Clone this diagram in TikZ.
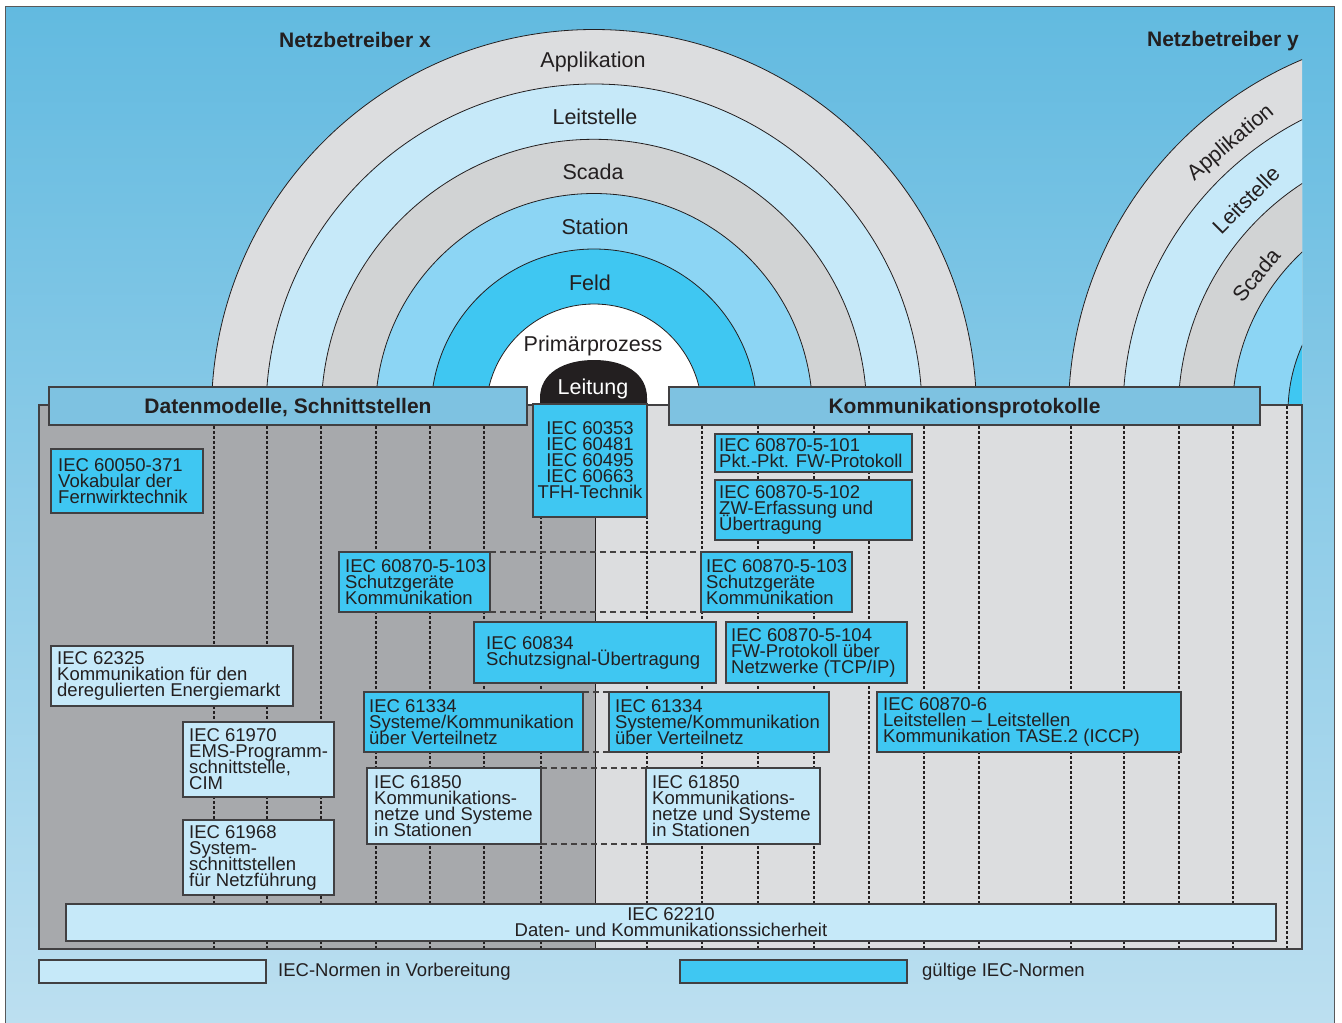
\documentclass[tikz,border=0pt]{standalone}
\usepackage{fontspec}
\setmainfont{Liberation Sans}
\definecolor{cyanN}{HTML}{3FC7F2}
\definecolor{lightN}{HTML}{C6E9F9}
\definecolor{darkG}{HTML}{A7A9AC}
\definecolor{lightG}{HTML}{DCDDDF}
\definecolor{midG}{HTML}{D1D3D4}
\definecolor{barB}{HTML}{7EC2E1}
\definecolor{stationB}{HTML}{8CD5F4}
\definecolor{ink}{HTML}{231F20}
\definecolor{bgTop}{HTML}{62BAE0}
\definecolor{bgBot}{HTML}{BCDFF0}
\definecolor{frameC}{HTML}{58595B}
\definecolor{barline}{HTML}{414042}
\newcommand\mytightlines{\lineskiplimit=-100pt\relax\lineskip=0pt\relax}
\newcommand\myboxfont{\fontsize{18.5}{16}\selectfont\mytightlines}
\begin{document}
\begin{tikzpicture}[x=1pt,y=-1pt,
  arcl/.style={draw=ink, line width=0.8},
  archlabel/.style={font=\fontsize{21.5}{24}\selectfont, text=ink, inner sep=0},
  heading/.style={font=\bfseries\fontsize{21}{24}\selectfont, text=ink, inner sep=0},
  bar/.style={draw=barline, line width=1.5, fill=barB, inner sep=0, outer sep=0, font=\bfseries\fontsize{21}{24}\selectfont, text=ink, text depth=0pt},
  normbox/.style={draw=barline, line width=1.3, inner sep=0, outer sep=0},
  valid/.style={normbox, fill=cyanN},
  prep/.style={normbox, fill=lightN},
  txt/.style={font=\myboxfont, text=ink, align=left, inner sep=0, anchor=west},
  vdash/.style={draw=ink, line width=1.5, dash pattern=on 3pt off 2pt},
  hdash/.style={draw=ink!85, line width=1.2, dash pattern=on 6pt off 4pt}]

\useasboundingbox (0,0) rectangle (1342,1023);
\fill[white] (0,0) rectangle (1342,1023);
\shade[top color=bgTop, bottom color=bgBot] (5,6) rectangle (1334,1023);
\draw[frameC, line width=1] (5,6) -- (1334,6) -- (1334,1024);
\draw[frameC, line width=1] (5,6) -- (5,1024);

% right arch (Netzbetreiber y)
\begin{scope}
  \clip (1000,0) rectangle (1302,420);
  \foreach \r/\c in {382.5/lightG, 328/lightN, 272.7/midG, 218.5/stationB, 163/cyanN, 108/white}
    \filldraw[arcl, fill=\c] (1451,412) circle[radius=\r];
\end{scope}

% left arch (Netzbetreiber x)
\foreach \r/\c in {382.5/lightG, 328/lightN, 272.7/midG, 218.5/stationB, 163/cyanN, 108/white}
  \filldraw[arcl, fill=\c] (594,412) circle[radius=\r];
\fill[ink] (540,406) -- (540,398) .. controls (540,373) and (564,360) .. (594,360)
  .. controls (624,360) and (647,373) .. (647,398) -- (647,406) -- cycle;

\node[archlabel] (lApp) at (593,62) {Applikation};
\node[archlabel] (lLeit) at (595,117) {Leitstelle};
\node[archlabel] (lSca) at (593,172) {Scada};
\node[archlabel] (lSta) at (595,227) {Station};
\node[archlabel] (lFeld) at (590,283) {Feld};
\node[archlabel] (lPrim) at (593,346) {Primärprozess};

\node[archlabel, rotate=40] (rApp) at (1231,143) {Applikation};
\node[archlabel, rotate=45] (rLeit) at (1246,200) {Leitstelle};
\node[archlabel, rotate=50] (rSca) at (1256,275) {Scada};

\node[heading] (nx) at (355,40) {Netzbetreiber x};
\node[heading] (ny) at (1223,41) {Netzbetreiber y};

% main area
\fill[darkG] (39,405) rectangle (595,949);
\fill[lightG] (595,405) rectangle (1302,949);
\draw[ink, line width=0.8] (595,405) -- (595,949);
\draw[barline, line width=1.3] (39,405) rectangle (1302,949);

\foreach \x in {214,267,321,376,430,484,541,647,702,758,814,869,924,979,1071,1124,1179,1233,1287}
  \draw[vdash] (\x,406) -- (\x,948);

% header bars
\node[bar, minimum width=478, minimum height=38] (bDaten) at (288,406) {Datenmodelle, Schnittstellen};
\node[bar, minimum width=591, minimum height=38] (bKomm) at (964.5,406) {Kommunikationsprotokolle};

% boxes
\node[valid, minimum width=152, minimum height=64] (b1) at (127,481) {};
\node[prep, minimum width=242, minimum height=60] (b2) at (172,676) {};
\node[valid, minimum width=114, minimum height=113] (b3) at (590,460.5) {};
\node[valid, minimum width=197, minimum height=38] (b4) at (813.5,453) {};
\node[valid, minimum width=197, minimum height=60] (b5) at (813.5,510) {};
\node[valid, minimum width=151, minimum height=60] (b6) at (414.5,582) {};
\node[valid, minimum width=151, minimum height=60] (b7) at (776.5,582) {};
\node[valid, minimum width=242, minimum height=61] (b8) at (595,652.5) {};
\node[valid, minimum width=181, minimum height=61] (b9) at (816.5,652.5) {};
\node[valid, minimum width=219, minimum height=60] (b10) at (473.5,722) {};
\node[valid, minimum width=220, minimum height=60] (b11) at (719,722) {};
\node[valid, minimum width=304, minimum height=60] (b12) at (1029,722) {};
\node[prep, minimum width=151, minimum height=75] (b13) at (258.5,759.5) {};
\node[prep, minimum width=151, minimum height=75] (b14) at (258.5,857.5) {};
\node[prep, minimum width=174, minimum height=76] (b15) at (454,806) {};
\node[prep, minimum width=174, minimum height=76] (b16) at (733,806) {};
\node[prep, minimum width=1210, minimum height=37] (b17) at (671,922.5) {};

% dashed connectors between paired boxes
\draw[hdash] (b6.north east) -- (b7.north west);
\draw[hdash] (b6.south east) -- (b7.south west);
\draw[hdash] (b10.north east) -- (b11.north west);
\draw[hdash] (b10.south east) -- (b11.south west);
\draw[hdash] (b15.north east) -- (b16.north west);
\draw[hdash] (b15.south east) -- (b16.south west);

% texts
\node[txt] (t1) at ([xshift=7pt]b1.west) {IEC 60050-371\\Vokabular der\\Fernwirktechnik};
\node[txt] (t2) at ([xshift=6pt]b2.west) {IEC 62325\\Kommunikation für den\\deregulierten Energiemarkt};
\node[txt, anchor=center, align=center] (t3) at (b3.center) {IEC 60353\\IEC 60481\\IEC 60495\\IEC 60663\\TFH-Technik};
\node[txt] (t4) at ([xshift=4pt]b4.west) {IEC 60870-5-101\\Pkt.-Pkt. FW-Protokoll};
\node[txt] (t5) at ([xshift=4pt]b5.west) {IEC 60870-5-102\\ZW-Erfassung und\\Übertragung};
\node[txt] (t6) at ([xshift=6pt]b6.west) {IEC 60870-5-103\\Schutzgeräte\\Kommunikation};
\node[txt] (t7) at ([xshift=5pt]b7.west) {IEC 60870-5-103\\Schutzgeräte\\Kommunikation};
\node[txt] (t8) at ([xshift=12pt]b8.west) {IEC 60834\\Schutzsignal-Übertragung};
\node[txt] (t9) at ([xshift=5pt]b9.west) {IEC 60870-5-104\\FW-Protokoll über\\Netzwerke (TCP/IP)};
\node[txt] (t10) at ([xshift=5pt]b10.west) {IEC 61334\\Systeme/Kommunikation\\über Verteilnetz};
\node[txt] (t11) at ([xshift=6pt]b11.west) {IEC 61334\\Systeme/Kommunikation\\über Verteilnetz};
\node[txt] (t12) at ([xshift=6pt]b12.west) {IEC 60870-6\\Leitstellen – Leitstellen\\Kommunikation TASE.2 (ICCP)};
\node[txt] (t13) at ([xshift=6pt]b13.west) {IEC 61970\\EMS-Programm-\\schnittstelle,\\CIM};
\node[txt] (t14) at ([xshift=6pt]b14.west) {IEC 61968\\System-\\schnittstellen\\für Netzführung};
\node[txt] (t15) at ([xshift=7pt]b15.west) {IEC 61850\\Kommunikations-\\netze und Systeme\\in Stationen};
\node[txt] (t16) at ([xshift=6pt]b16.west) {IEC 61850\\Kommunikations-\\netze und Systeme\\in Stationen};
\node[txt, anchor=center, align=center] (t17) at (b17.center) {IEC 62210\\Daten- und Kommunikationssicherheit};

\node[archlabel, text=white] (lLeitung) at (593,389) {Leitung};

% legend
\node[prep, minimum width=227, minimum height=23] (leg1) at (152.5,971.5) {};
\node[valid, minimum width=227, minimum height=23] (leg2) at (793.5,971.5) {};
\node[txt] (lt1) at ([xshift=12pt]leg1.east) {IEC-Normen in Vorbereitung};
\node[txt] (lt2) at ([xshift=15pt]leg2.east) {gültige IEC-Normen};
\end{tikzpicture}
\end{document}
